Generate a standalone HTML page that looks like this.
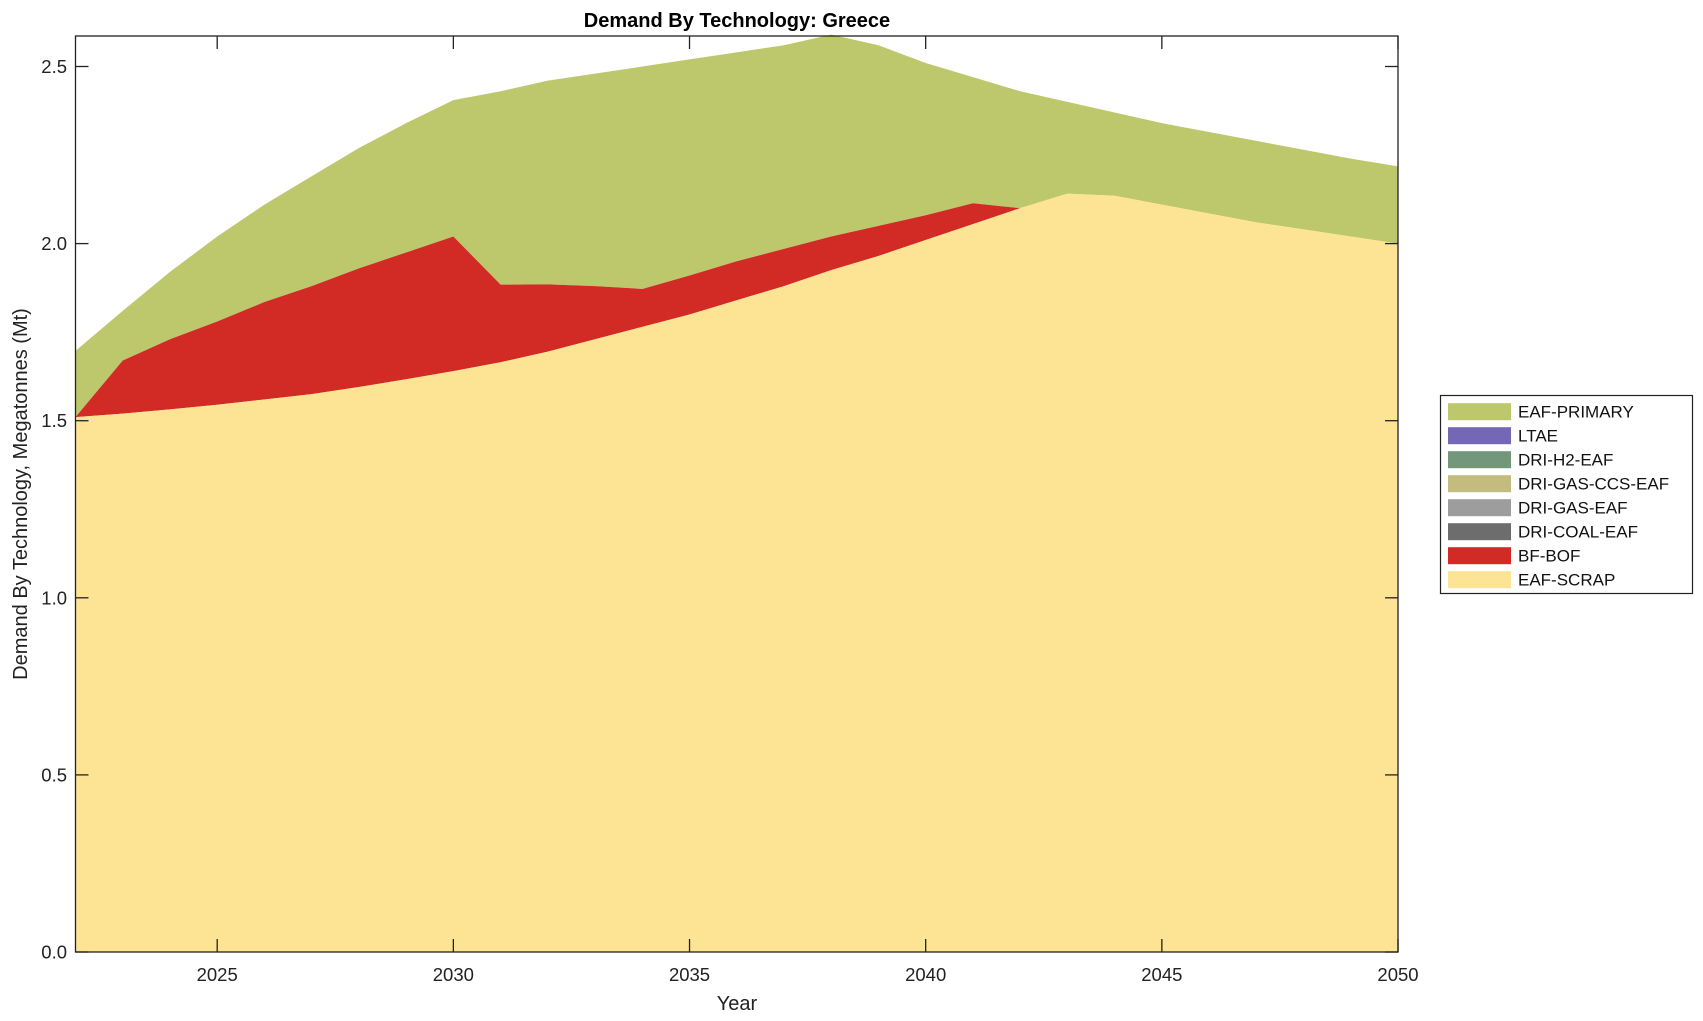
<!DOCTYPE html>
<html><head><meta charset="utf-8"><style>
body{margin:0;background:#fff;}
svg{display:block;font-family:"Liberation Sans",Arial,sans-serif;}
</style></head><body>
<svg id="s" width="1703" height="1021" xmlns="http://www.w3.org/2000/svg">
<g id="areas"></g>
<rect x="75.5" y="36" width="1322.5" height="916" fill="none" stroke="#222" stroke-width="1.3"/>
<g id="ticks" stroke="#222" stroke-width="1.3"></g>
<g id="lbl" font-size="18.5" fill="#222"></g>
<text x="737" y="27" font-size="20" font-weight="bold" text-anchor="middle" fill="#000">Demand By Technology: Greece</text>
<text x="737" y="1010" font-size="20" text-anchor="middle" fill="#222">Year</text>
<text transform="translate(27,494) rotate(-90)" font-size="20" text-anchor="middle" fill="#222">Demand By Technology, Megatonnes (Mt)</text>
<rect x="1440.5" y="395.5" width="252" height="198" fill="#fff" stroke="#222" stroke-width="1.2"/>
<g id="leg" font-size="17" fill="#111"></g>
</svg>
<script>
var X0=75.5,X1=1398,Y0=952,YS=354.2;
function px(t){return X0+(t-2022)*(X1-X0)/28;}
function py(v){return Y0-v*YS;}
var yrs=[];for(var y=2022;y<=2050;y++)yrs.push(y);
var topv=[1.697,1.81,1.92,2.02,2.11,2.19,2.27,2.34,2.405,2.43,2.46,2.48,2.50,2.52,2.54,2.56,2.59,2.56,2.51,2.47,2.43,2.40,2.37,2.34,2.315,2.29,2.265,2.24,2.218];
var scrap=[1.51,1.52,1.532,1.545,1.56,1.575,1.595,1.617,1.64,1.665,1.695,1.73,1.765,1.80,1.84,1.88,1.925,1.965,2.01,2.055,2.10,2.141,2.135,2.11,2.085,2.06,2.04,2.02,2.0];
var red=[1.51,1.67,1.73,1.78,1.835,1.88,1.93,1.975,2.02,1.884,1.885,1.88,1.872,1.91,1.95,1.985,2.02,2.05,2.08,2.114,2.10,2.141,2.135,2.11,2.085,2.06,2.04,2.02,2.0];
function area(upper,lower,col){
 var d="M"+px(2022)+","+py(upper[0]);
 for(var i=1;i<yrs.length;i++)d+="L"+px(yrs[i])+","+py(upper[i]);
 for(var i=yrs.length-1;i>=0;i--)d+="L"+px(yrs[i])+","+(lower?py(lower[i]):Y0);
 return '<path d="'+d+'Z" fill="'+col+'"/>';
}
var zero=yrs.map(function(){return 0;});
document.getElementById('areas').innerHTML=area(topv,red,'#bdc76b')+area(red,scrap,'#d22b25')+area(scrap,zero,'#fde394');
var t='',l='';
for(var y=2025;y<=2050;y+=5){var x=px(y);t+='<line x1="'+x+'" y1="'+Y0+'" x2="'+x+'" y2="'+(Y0-13)+'"/><line x1="'+x+'" y1="36" x2="'+x+'" y2="49"/>';
 l+='<text x="'+x+'" y="981" text-anchor="middle">'+y+'</text>';}
for(var v=0;v<=2.5;v+=0.5){var yy=py(v);t+='<line x1="'+X0+'" y1="'+yy+'" x2="'+(X0+13)+'" y2="'+yy+'"/><line x1="'+X1+'" y1="'+yy+'" x2="'+(X1-13)+'" y2="'+yy+'"/>';
 l+='<text x="67" y="'+(yy+6.5)+'" text-anchor="end">'+v.toFixed(1)+'</text>';}
document.getElementById('ticks').innerHTML=t;document.getElementById('lbl').innerHTML=l;
var items=[['EAF-PRIMARY','#bdc76b'],['LTAE','#7468b6'],['DRI-H2-EAF','#72977a'],['DRI-GAS-CCS-EAF','#c4bb7e'],['DRI-GAS-EAF','#9d9d9d'],['DRI-COAL-EAF','#6d6d6d'],['BF-BOF','#d22b25'],['EAF-SCRAP','#fde394']];
var g='';items.forEach(function(it,i){var cy=411.7+i*24;g+='<rect x="1448" y="'+(cy-8.5)+'" width="63" height="17" fill="'+it[1]+'"/><text x="1518" y="'+(cy+6)+'">'+it[0]+'</text>';});
document.getElementById('leg').innerHTML=g;
</script>
</body></html>
